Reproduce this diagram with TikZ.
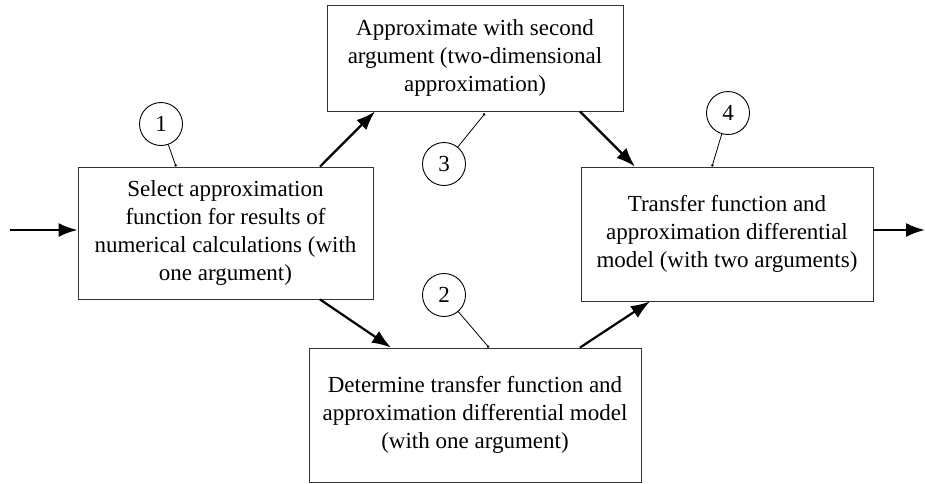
\documentclass[tikz,border=0pt]{standalone}
\usepackage{fontspec}
\setmainfont{Liberation Serif}
\usetikzlibrary{arrows.meta,calc}
\tikzset{
	box/.style={draw=black!80, line width=0.9pt, align=center, inner sep=0pt, font=\fontsize{23}{28.3}\selectfont},
	flow/.style={line width=2.2pt, -{Latex[length=19pt,width=14pt]}},
	tag/.style={draw, circle, minimum size=43pt, inner sep=0pt, line width=0.9pt, font=\fontsize{23}{26}\selectfont},
	tagline/.style={line width=0.8pt, -{Circle[length=2.5pt]}}
}
\begin{document}
\begin{tikzpicture}[x=1pt,y=-1pt]
	\useasboundingbox (0,0) rectangle (925,483);

	\node[box, minimum width=295pt, minimum height=132pt] (A) at (225.5,233) {Select approximation\\function for results of\\numerical calculations (with\\one argument)};%start
	\node[box, minimum width=296pt, minimum height=106pt] (B) at (475,58) {Approximate with second\\argument (two-dimensional\\approximation)};%upper
	\node[box, minimum width=332pt, minimum height=134pt] (C) at (475,415) {Determine transfer function and\\approximation differential model\\(with one argument)};%lower
	\node[box, minimum width=292pt, minimum height=134pt] (D) at (727,234) {Transfer function and\\approximation differential\\model (with two arguments)};%result

	\node[tag] (c1) at (161,124) {1};
	\node[tag] (c2) at (444,295) {2};
	\node[tag] (c3) at (444,164) {3};
	\node[tag] (c4) at (728,113) {4};

	\coordinate (in) at (10,230);
	\coordinate (out) at (925,230);

	\draw[flow] (in) -- (in -| A.west);%input
	\draw[flow] (out -| D.east) -- (out);%output
	\draw[flow] ([xshift=94.5pt]A.north) -- ([xshift=-100pt]B.south);
	\draw[flow] ([xshift=105pt]B.south) -- ([xshift=-92pt]D.north);
	\draw[flow] ([xshift=94.5pt]A.south) -- ([xshift=-84pt]C.north);
	\draw[flow] ([xshift=105pt]C.north) -- ([xshift=-77pt]D.south);

	\draw[tagline] (c1) -- ([xshift=-49.5pt]A.north);
	\draw[tagline] (c2) -- ([xshift=14pt]C.north);
	\draw[tagline] (c3) -- ([xshift=10pt,yshift=-2pt]B.south);
	\draw[tagline] (c4) -- ([xshift=-15pt]D.north);
\end{tikzpicture}
\end{document}
